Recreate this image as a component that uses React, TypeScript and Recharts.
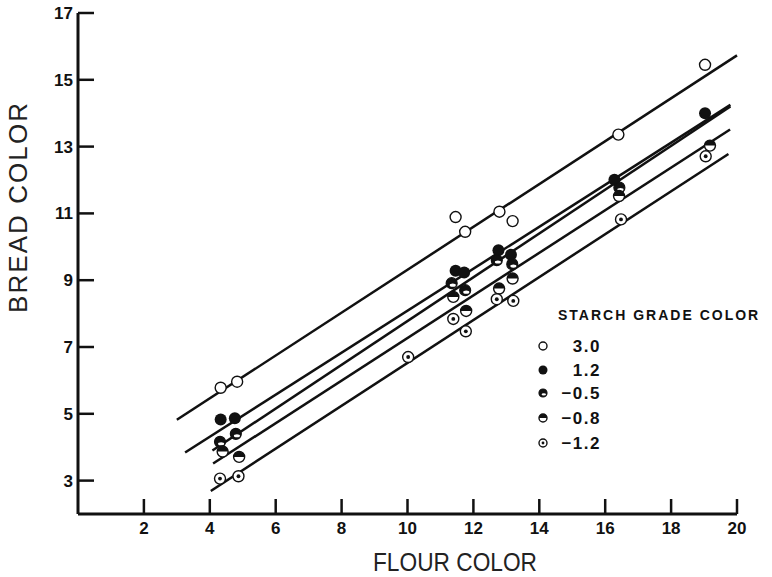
import { ScatterChart, Scatter, XAxis, YAxis, ReferenceLine } from 'recharts'

// starch grade colour for each series, top line to bottom line
const gradeLabels = ['3.0', '1.2', '\u22120.5', '\u22120.8', '\u22121.2']

const grade30 = [
  { flour: 4.33, bread: 5.78 }, { flour: 4.83, bread: 5.96 }, { flour: 11.46, bread: 10.89 },
  { flour: 11.75, bread: 10.45 }, { flour: 12.79, bread: 11.05 }, { flour: 13.19, bread: 10.77 },
  { flour: 16.4, bread: 13.36 }, { flour: 19.03, bread: 15.45 },
]
const grade12 = [
  { flour: 4.33, bread: 4.83 }, { flour: 4.76, bread: 4.87 }, { flour: 11.46, bread: 9.28 },
  { flour: 11.72, bread: 9.23 }, { flour: 12.76, bread: 9.9 }, { flour: 13.14, bread: 9.76 },
  { flour: 16.28, bread: 12.01 }, { flour: 19.03, bread: 14.0 },
]
const gradeM05 = [
  { flour: 4.31, bread: 4.16 }, { flour: 4.79, bread: 4.4 }, { flour: 11.34, bread: 8.91 },
  { flour: 11.75, bread: 8.7 }, { flour: 12.71, bread: 9.6 }, { flour: 13.18, bread: 9.48 },
  { flour: 16.43, bread: 11.77 },
]
const gradeM08 = [
  { flour: 4.39, bread: 3.87 }, { flour: 4.89, bread: 3.71 }, { flour: 11.39, bread: 8.5 },
  { flour: 11.78, bread: 8.08 }, { flour: 12.78, bread: 8.75 }, { flour: 13.19, bread: 9.05 },
  { flour: 16.42, bread: 11.52 }, { flour: 19.18, bread: 13.03 },
]
const gradeM12 = [
  { flour: 4.31, bread: 3.06 }, { flour: 4.87, bread: 3.13 }, { flour: 10.02, bread: 6.7 },
  { flour: 11.39, bread: 7.84 }, { flour: 11.77, bread: 7.47 }, { flour: 12.71, bread: 8.43 },
  { flour: 13.21, bread: 8.38 }, { flour: 16.48, bread: 10.82 }, { flour: 19.05, bread: 12.71 },
]
const allGrades = [grade30, grade12, gradeM05, gradeM08, gradeM12]

// fitted lines: [flour, bread] at each end
const fitStart = [[3.0, 4.82], [3.25, 3.84], [4.08, 3.9], [4.1, 3.51], [4.03, 2.69]]
const fitEnd = [[20, 15.73], [19.8, 14.25], [19.8, 14.2], [19.79, 13.51], [19.74, 12.78]]

const xTicks = [2, 4, 6, 8, 10, 12, 14, 16, 18, 20]
const yTicks = [3, 5, 7, 9, 11, 13, 15, 17]

const ink = '#111'
const sans = '"Liberation Sans", Arial, sans-serif'
const tickFont = { fontFamily: sans, fontWeight: 700, fontSize: 17, fill: ink }

function Marker({ cx, cy, kind, r }: { cx: number; cy: number; kind: number; r: number }) {
  if (kind === 0) return <circle cx={cx} cy={cy} r={r} fill="#fff" stroke={ink} strokeWidth={1.4} />
  if (kind === 1) return <circle cx={cx} cy={cy} r={r + 0.5} fill={ink} />
  if (kind === 2) return (
    <g>
      <circle cx={cx} cy={cy} r={r} fill={ink} stroke={ink} strokeWidth={1.2} />
      <ellipse cx={cx + r * 0.2} cy={cy + r * 0.35} rx={r * 0.55} ry={r * 0.28} fill="#fff" />
    </g>
  )
  if (kind === 3) return (
    <g>
      <circle cx={cx} cy={cy} r={r} fill="#fff" stroke={ink} strokeWidth={1.4} />
      <path d={`M${cx - r} ${cy} A${r} ${r} 0 0 1 ${cx + r} ${cy} Z`} fill={ink} />
    </g>
  )
  return (
    <g>
      <circle cx={cx} cy={cy} r={r} fill="#fff" stroke={ink} strokeWidth={1.4} />
      <circle cx={cx} cy={cy} r={r * 0.35} fill={ink} />
    </g>
  )
}

const XTick = ({ x, y, payload }: any) => (
  <g>
    <line x1={x} y1={y} x2={x} y2={y - 15} stroke={ink} strokeWidth={2.5} />
    <text x={x} y={y + 20} textAnchor="middle" {...tickFont}>{payload.value}</text>
  </g>
)

const YTick = ({ x, y, payload }: any) => (
  <g>
    <line x1={x} y1={y} x2={x + 16} y2={y} stroke={ink} strokeWidth={2.5} />
    <text x={x - 5} y={y + 6} textAnchor="end" {...tickFont}>{payload.value}</text>
  </g>
)

const LegendBox = () => (
  <svg width={236} height={160} style={{ position: 'absolute', left: 535, top: 300 }}>
    <text x={23} y={20} fontFamily={sans} fontWeight={700} fontSize={14} letterSpacing={2} fill={ink}>
      STARCH GRADE COLOR
    </text>
    {gradeLabels.map((g, i) => {
      const cy = [46, 70, 93, 118, 143][i]
      return (
        <g key={g}>
          <Marker cx={8} cy={cy} kind={i} r={4} />
          <text x={66} y={cy + 6} textAnchor="end" fontFamily={sans} fontWeight={700} fontSize={17}
            letterSpacing={1.5} fill={ink}>{g}</text>
        </g>
      )
    })}
  </svg>
)

export default function App() {
  return (
    <div style={{ position: 'relative', width: 772, height: 577, background: '#fff' }}>
      <style>{'body{margin:0}'}</style>
      <ScatterChart width={772} height={577} margin={{ top: 13, right: 35, bottom: 0, left: 0 }}>
        <XAxis type="number" dataKey="flour" domain={[0, 20]} ticks={xTicks} height={63}
          axisLine={{ stroke: ink, strokeWidth: 3 }} tickLine={false} tickSize={0} tickMargin={0}
          tick={<XTick />}
          label={{
            content: () => (
              <text x={373} y={571} textLength={164} lengthAdjust="spacingAndGlyphs"
                fontFamily={sans} fontSize={26} fill="#222">
                FLOUR COLOR
              </text>
            ),
          }} />
        <YAxis type="number" dataKey="bread" domain={[2, 17]} ticks={yTicks} width={78}
          axisLine={{ stroke: ink, strokeWidth: 3 }} tickLine={false} tickSize={0} tickMargin={0}
          tick={<YTick />}
          label={{
            content: () => (
              <text x={27} y={313} transform="rotate(-90 27 313)" textLength={210} lengthAdjust="spacing"
                fontFamily={sans} fontSize={26} fill="#222">
                BREAD COLOR
              </text>
            ),
          }} />
        {fitStart.map((s, i) => (
          <ReferenceLine key={'fit' + i} segment={[{ x: s[0], y: s[1] }, { x: fitEnd[i][0], y: fitEnd[i][1] }]}
            stroke={ink} strokeWidth={2.5} ifOverflow="visible" />
        ))}
        {allGrades.map((pts, i) => (
          <Scatter key={gradeLabels[i]} name={gradeLabels[i]} data={pts} isAnimationActive={false}
            shape={(p: any) => <Marker cx={p.cx} cy={p.cy} kind={i} r={5.5} />} />
        ))}
      </ScatterChart>
      <LegendBox />
    </div>
  )
}
